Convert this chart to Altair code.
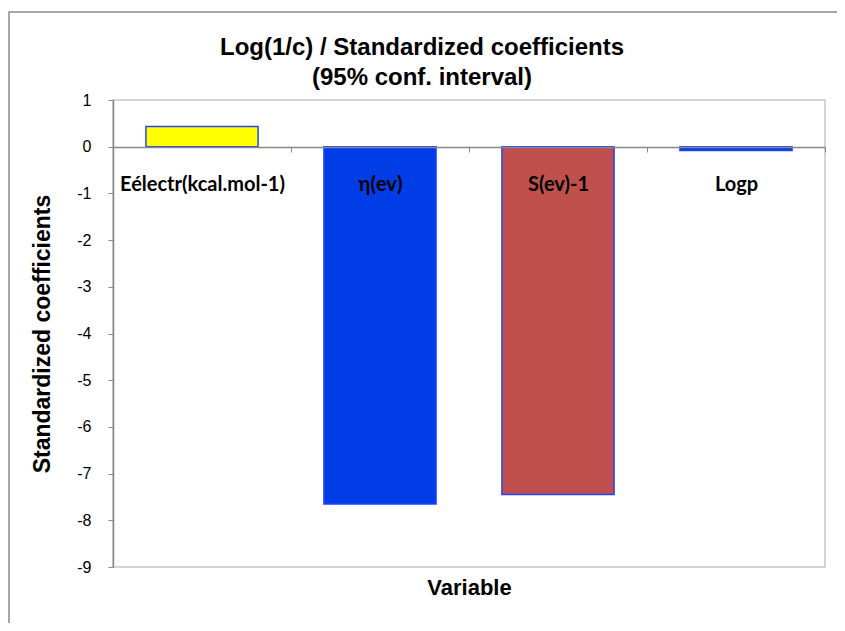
import altair as alt
import pandas as pd

variables = ["Eélectr(kcal.mol-1)", "η(ev)", "S(ev)-1", "Logp"]
coefficients = [0.43, -7.65, -7.45, -0.08]
fills = ["#FFFF00", "#003DE6", "#C0504D", "#003DE6"]
y_ticks = [1, 0, -1, -2, -3, -4, -5, -6, -7, -8, -9]

df = pd.DataFrame({"Variable": variables, "coef": coefficients, "fill": fills})

W, H = 712, 467
zero_offset = -(H - 47)

frame = alt.Chart(pd.DataFrame({"a": [0]})).mark_rect(
    fill=None, stroke="#8a8a8a", strokeWidth=1.5
).encode(
    x=alt.value(-104), x2=alt.value(W + 60),
    y=alt.value(-88), y2=alt.value(H + 100)
)

bars = alt.Chart(df).mark_bar(
    stroke="#1F45FF", strokeWidth=1.5, width=alt.RelativeBandSize(0.63)
).encode(
    x=alt.X("Variable:N", sort=variables,
            scale=alt.Scale(paddingInner=0, paddingOuter=0),
            axis=alt.Axis(
                orient="bottom", offset=zero_offset, labelAngle=0, zindex=1,
                labelFont="Lato", labelFontSize=20, labelFontWeight="bold",
                labelColor="#000000", labelPadding=22,
                tickBand="extent", tickSize=5, tickColor="#888888",
                domainColor="#888888", domainWidth=1.5,
                title="Variable", titleFont="Liberation Sans", titleFontSize=22,
                titleFontWeight="bold", titleColor="#000000",
                titleY=-zero_offset + 20, titleBaseline="middle",
            )),
    y=alt.Y("coef:Q",
            scale=alt.Scale(domain=[-9, 1], nice=False, zero=False),
            axis=alt.Axis(
                values=y_ticks, labelExpr="toString(datum.value)", grid=False,
                labelFont="Liberation Sans", labelFontSize=16, labelColor="#000000",
                labelPadding=17, tickSize=5, tickColor="#888888",
                domainColor="#888888", domainWidth=1.5,
                title="Standardized coefficients", titleFont="Liberation Sans",
                titleFontSize=23, titleFontWeight="bold", titleColor="#000000",
                titlePadding=22,
            )),
    fill=alt.Fill("fill:N", scale=None),
)

chart = alt.layer(frame, bars).properties(
    width=W, height=H,
    autosize=alt.AutoSizeParams(type="none"),
    padding={"left": 105, "top": 92, "right": 12, "bottom": 56},
    title=alt.TitleParams(
        text=["Log(1/c) / Standardized coefficients", "(95% conf. interval)"],
        font="Liberation Sans", fontSize=24, fontWeight="bold", color="#000000",
        lineHeight=30, offset=10, dx=-47, dy=89,
    ),
).configure_view(stroke="#c8c8c8", strokeWidth=1.5)

chart.save("out.html", embed_options={"renderer": "svg", "actions": False})
